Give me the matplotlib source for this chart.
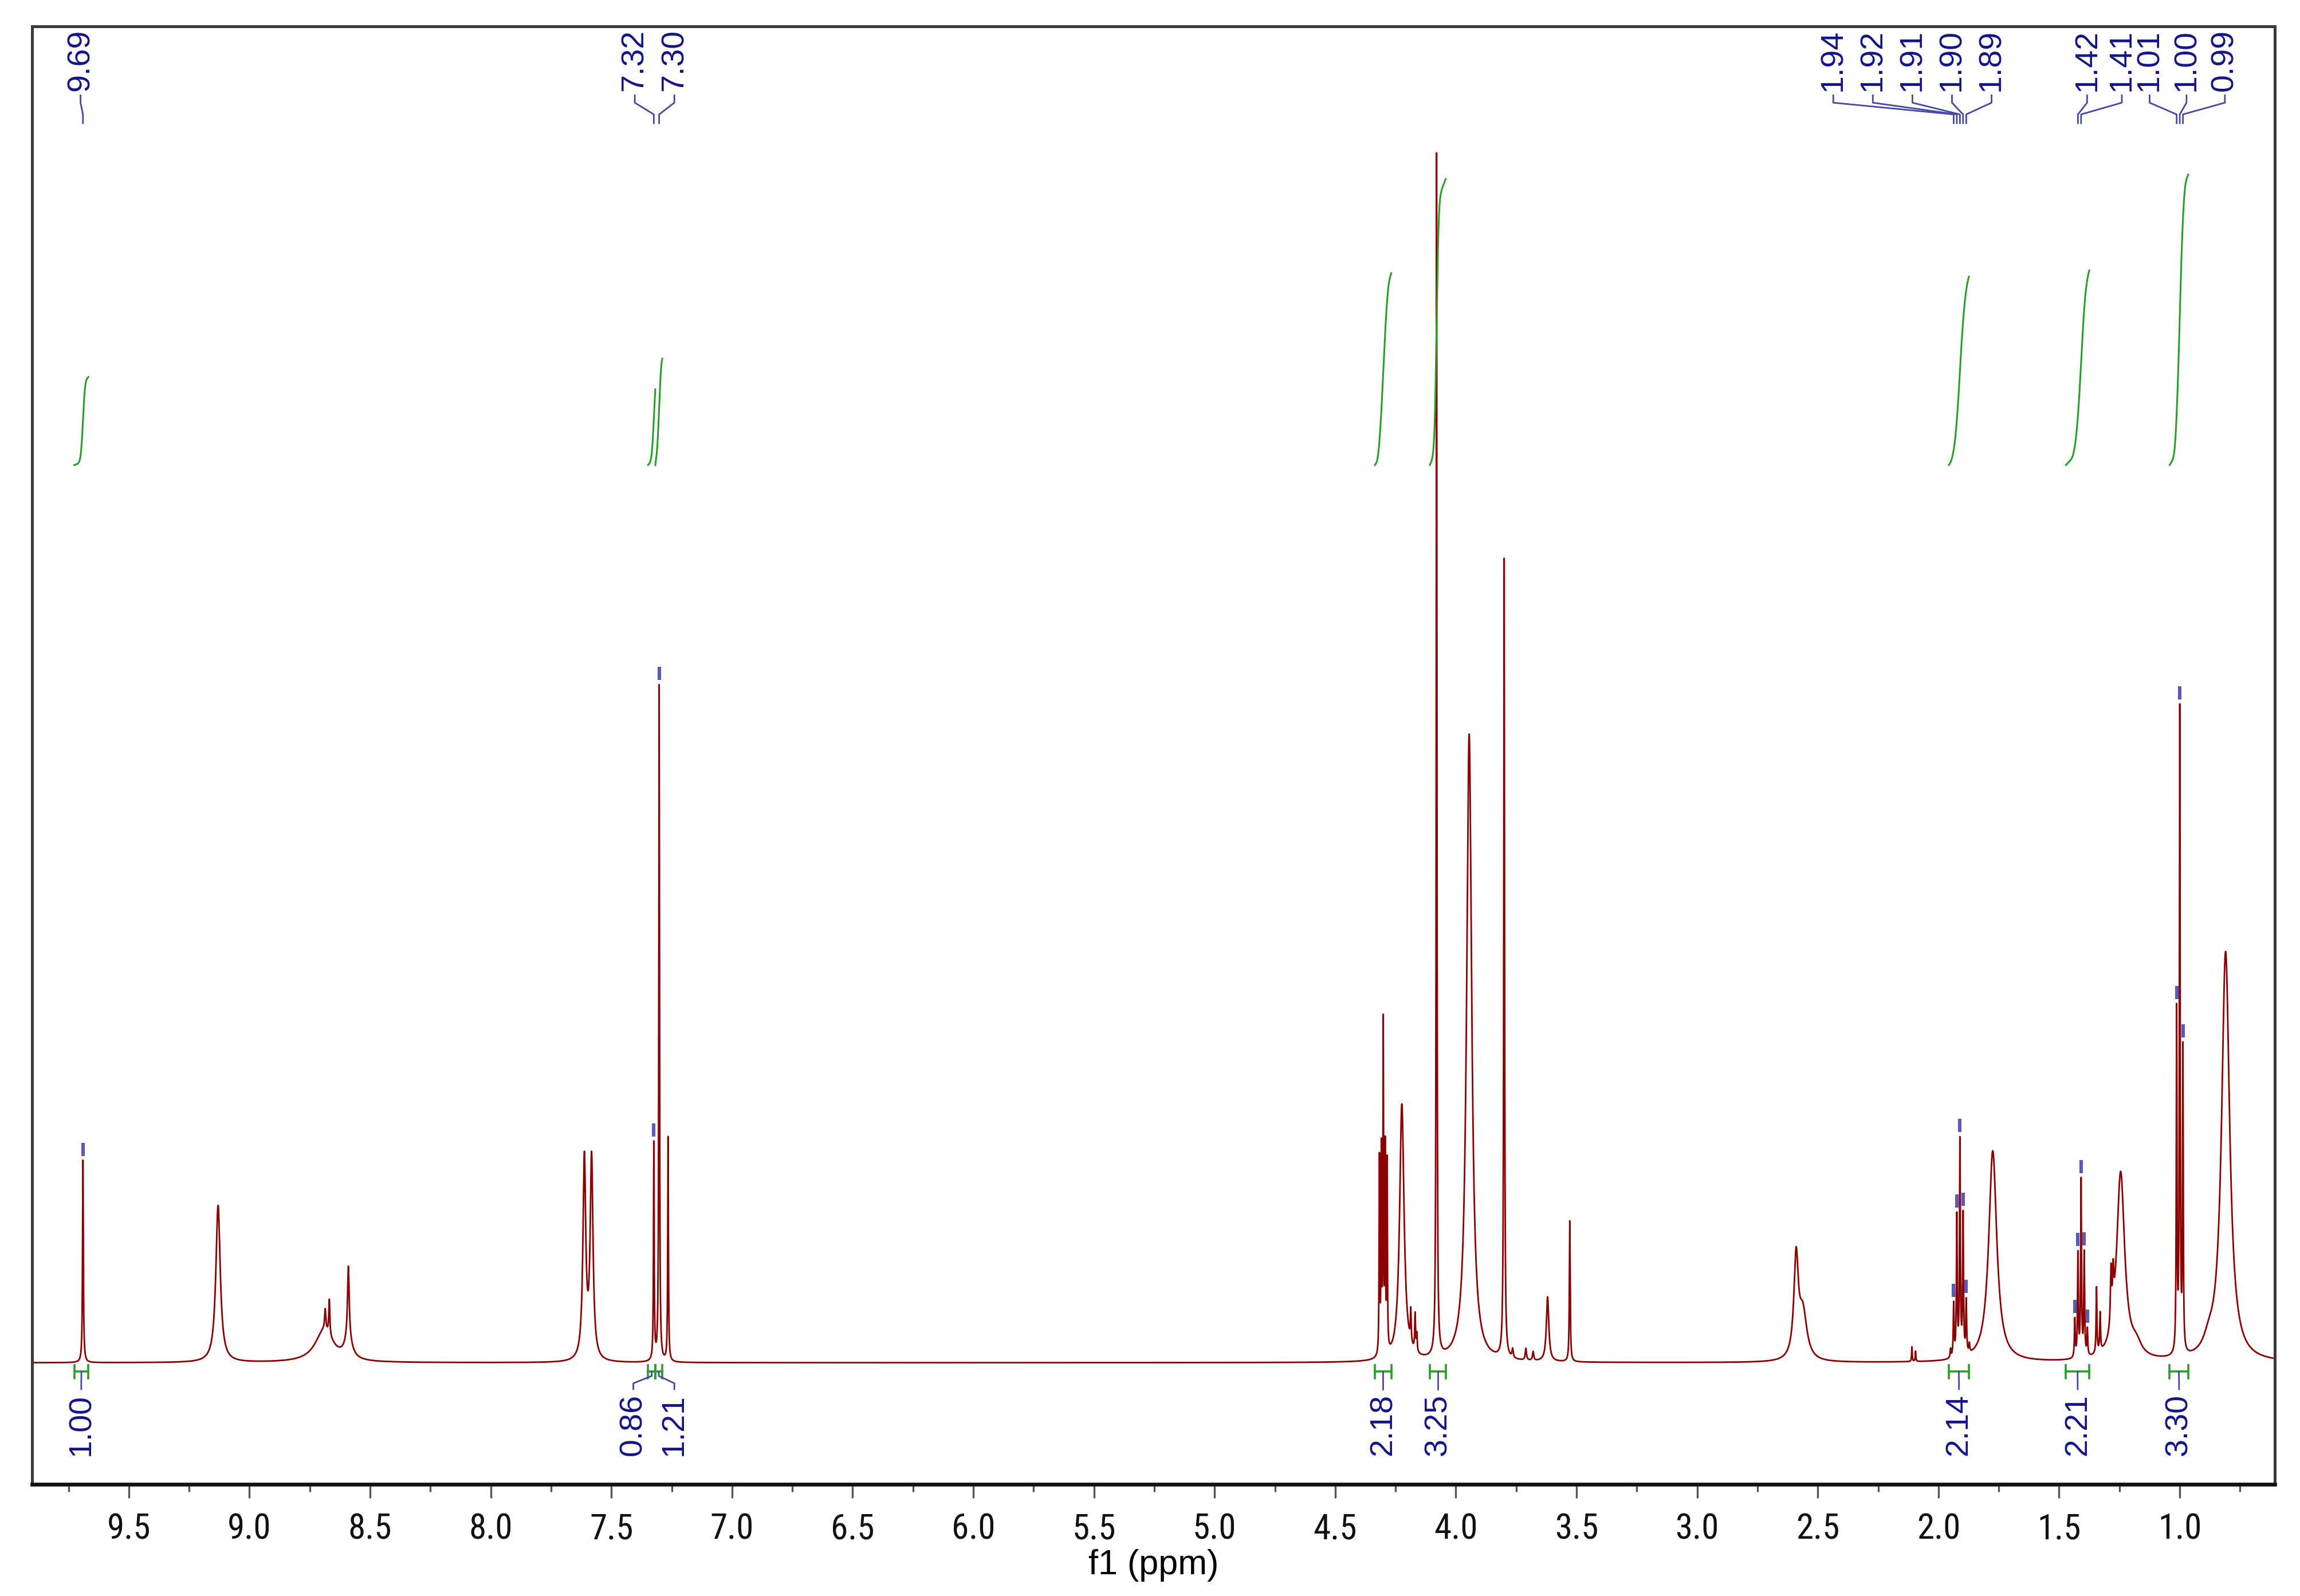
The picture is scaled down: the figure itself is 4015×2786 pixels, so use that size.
import matplotlib.pyplot as plt
import numpy as np
from matplotlib import font_manager

plt.rcParams['font.family'] = ['Liberation Sans', 'DejaVu Sans']

# peaks: shift (ppm), height above baseline, width (fwhm, ppm)
shift = [9.690, 9.130, 8.690, 8.686, 8.669, 8.590, 8.590,
         7.612, 7.582, 7.324, 7.302, 7.265,
         4.317, 4.309, 4.301, 4.293, 4.285, 4.224, 4.187, 4.169, 4.162,
         4.080, 3.945, 3.800, 3.765, 3.710, 3.680, 3.620, 3.528,
         2.590, 2.562, 2.110, 2.095,
         1.950, 1.937, 1.924, 1.911, 1.898, 1.885, 1.872, 1.775,
         1.435, 1.422, 1.409, 1.396, 1.383, 1.345, 1.330, 1.285, 1.276, 1.245, 1.180,
         1.013, 1.000, 0.987, 0.880, 0.810]
height = [138, 107, 22, 14, 24, 48, 14,
          137, 137, 148, 461, 153,
          133, 136, 222, 136, 128, 175, 22, 25, 12,
          820, 428, 545, 6, 8, 6, 44, 96,
          68, 32, 10, 7,
          6, 36, 95, 146, 95, 36, 6, 144,
          26, 70, 120, 70, 18, 45, 26, 38, 28, 128, 8,
          232, 437, 205, 8, 279]
width = [0.004, 0.022, 0.09, 0.006, 0.005, 0.008, 0.035,
         0.014, 0.014, 0.0035, 0.0035, 0.0035,
         0.003, 0.003, 0.003, 0.003, 0.003, 0.022, 0.004, 0.004, 0.004,
         0.0035, 0.025, 0.004, 0.006, 0.006, 0.006, 0.012, 0.004,
         0.022, 0.04, 0.003, 0.003,
         0.004, 0.004, 0.004, 0.004, 0.004, 0.004, 0.004, 0.04,
         0.004, 0.004, 0.004, 0.004, 0.004, 0.004, 0.004, 0.006, 0.006, 0.04, 0.05,
         0.0035, 0.0035, 0.0035, 0.05, 0.04]

# picked peaks (labels on top)
peak_labels = ['9.69', '7.32', '7.30', '1.94', '1.92', '1.91', '1.90', '1.89',
               '1.42', '1.41', '1.01', '1.00', '0.99']
peak_at = [9.690, 7.324, 7.302, 1.937, 1.924, 1.911, 1.898, 1.885,
           1.422, 1.409, 1.013, 1.000, 0.987]
extra_marks = [1.435, 1.396, 1.383]

# integrals (bottom)
int_from = [9.726, 7.348, 7.318, 4.336, 4.108, 1.957, 1.472, 1.042]
int_to = [9.667, 7.318, 7.289, 4.268, 4.042, 1.874, 1.375, 0.965]
int_vals = [1.00, 0.86, 1.21, 2.18, 3.25, 2.14, 2.21, 3.30]

# layout: where the rotated labels sit (ppm)
peak_label_x = [9.700, 7.403, 7.239, 2.436, 2.272, 2.108, 1.944, 1.780,
                1.384, 1.240, 1.125, 0.972, 0.813]
int_label_x = [9.697, 7.409, 7.239, 4.302, 4.075, 1.915, 1.423, 1.003]

red = '#8b0000'
green = '#2a9e2a'
navy = '#14148a'
line_blue = '#4646a8'
mark_blue = '#5a5ab8'

# narrow font for the axis numbers if one is installed
tick_font = font_manager.FontProperties(family='Liberation Sans', size=22)
narrow = [f for f in font_manager.fontManager.ttflist
          if f.style == 'normal' and f.weight in (400, 'normal', 'regular')
          and ('Narrow' in f.name or 'Condensed' in f.name or f.stretch == 'condensed')]
for pref in ['Liberation Sans Narrow', 'Roboto Condensed', 'Open Sans Condensed',
             'DejaVu Sans', 'Noto Sans']:
    hit = [f for f in narrow if f.name.startswith(pref)]
    if hit:
        tick_font = font_manager.FontProperties(fname=hit[0].fname, size=22)
        break

ppm = np.linspace(9.90, 0.605, 150000)
spec = np.zeros_like(ppm)
for c, h, w in zip(shift, height, width):
    g = w / 2
    spec += h * g**2 / ((ppm - c)**2 + g**2)

fig = plt.figure(figsize=(20.075, 13.93), dpi=200)
ax = fig.add_axes([0.01403, 0.06985, 0.97513, 0.91361])

ax.plot(ppm, spec, color=red, lw=1.0)

# integral curves (drawn from a slightly smoothed copy of the trace)
step = ppm[0] - ppm[1]
sig = 0.006 / step
k = np.exp(-0.5 * (np.arange(-4 * sig, 4 * sig + 1) / sig) ** 2)
smooth = np.convolve(spec, k / k.sum(), mode='same')

int_base = 612
int_scale = 60
for a, b, v in zip(int_from, int_to, int_vals):
    m = (ppm <= a) & (ppm >= b)
    cum = np.cumsum(smooth[m])
    cum = (cum - cum[0]) / (cum[-1] - cum[0])
    ax.plot(ppm[m], int_base + cum * v * int_scale, color=green, lw=1.1)

# integral brackets + labels
for a, b, v, lx in zip(int_from, int_to, int_vals, int_label_x):
    ax.plot([a, b], [-6, -6], color=green, lw=1.3)
    ax.plot([a, a], [-1.5, -10.5], color=green, lw=1.3)
    ax.plot([b, b], [-1.5, -10.5], color=green, lw=1.3)
    c = (a + b) / 2
    ax.plot([c, c, lx, lx], [-6, -9, -14, -18], color=line_blue, lw=1.0)
    ax.text(lx, -21, f'{v:.2f}', rotation=90, ha='center', va='top',
            color=navy, fontsize=20)

# peak labels
for lab, px, lx in zip(peak_labels, peak_at, peak_label_x):
    ax.plot([lx, lx, px, px], [864, 859, 851, 845], color=line_blue, lw=1.0)
    ax.text(lx, 867, lab, rotation=90, ha='center', va='bottom',
            color=navy, fontsize=20)

for px in peak_at + extra_marks:
    i = np.argmin(np.abs(ppm - px))
    top = spec[i - 30:i + 30].max()
    ax.plot([px, px], [top + 3, top + 12], color=mark_blue, lw=2.2,
            solid_capstyle='butt')

ax.set_xlim(9.90, 0.605)
ax.set_ylim(-83, 911)

ticks = np.arange(1.0, 9.51, 0.5)
ax.set_xticks(ticks)
ax.set_xticklabels([f'{t:.1f}' for t in ticks])
for lab in ax.get_xticklabels():
    lab.set_fontproperties(tick_font)
ax.set_xticks(np.arange(0.75, 9.9, 0.5), minor=True)
ax.set_yticks([])
ax.tick_params(axis='x', which='major', direction='out', length=8.5, width=1.2,
               color='#555555', pad=9, labelcolor='#111111')
ax.tick_params(axis='x', which='minor', direction='out', length=4.6, width=1.2,
               color='#555555')

for s in ['top', 'left', 'right']:
    ax.spines[s].set_color('#3a3a3a')
    ax.spines[s].set_linewidth(1.8)
ax.spines['bottom'].set_color('#111111')
ax.spines['bottom'].set_linewidth(2.4)

ax.set_xlabel('f1 (ppm)', fontsize=22, va='top')
ax.xaxis.set_label_coords(0.5, -0.0443)

fig.savefig('out.png', dpi=200, facecolor='white')
